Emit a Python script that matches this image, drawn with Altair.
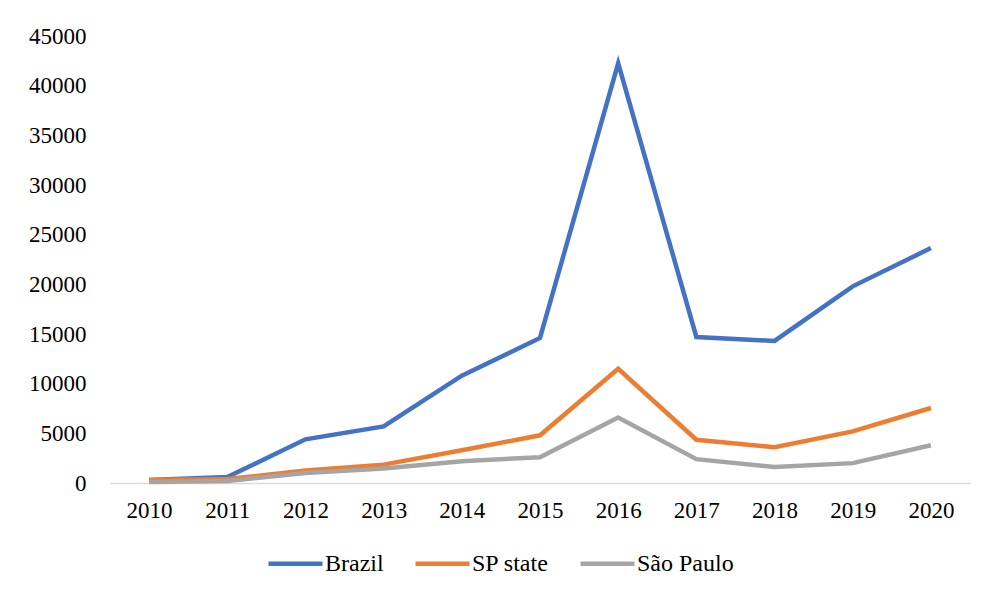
import altair as alt
import pandas as pd

years = ["2010", "2011", "2012", "2013", "2014", "2015", "2016", "2017", "2018", "2019", "2020"]
brazil = [300, 600, 4400, 5700, 10800, 14600, 42250, 14700, 14300, 19800, 23650]
sp_state = [300, 400, 1250, 1850, 3300, 4800, 11500, 4350, 3600, 5200, 7550]
sao_paulo = [100, 200, 1000, 1450, 2200, 2600, 6600, 2400, 1600, 2000, 3800]
series = ["Brazil", "SP state", "São Paulo"]
colors = ["#4472C4", "#ED7D31", "#A5A5A5"]
y_ticks = [0, 5000, 10000, 15000, 20000, 25000, 30000, 35000, 40000, 45000]

rows = []
for name, vals in zip(series, [brazil, sp_state, sao_paulo]):
    for i, (yr, v) in enumerate(zip(years, vals)):
        rows.append({"year": yr, "value": v, "series": name, "s": series.index(name)})
df = pd.DataFrame(rows)

FONT = "Liberation Serif"

chart = alt.Chart(df).mark_line(strokeWidth=4.5, strokeJoin="miter").encode(
    x=alt.X("year:O", sort=years, scale=alt.Scale(type="point", padding=0.5),
            axis=alt.Axis(title=None, labelAngle=0, ticks=False, domainColor="#d9d9d9",
                          domainWidth=1.5, labelPadding=16, labelFont=FONT, labelFontSize=23,
                          labelColor="#000000", grid=False)),
    y=alt.Y("value:Q", scale=alt.Scale(domain=[0, 45000], nice=False),
            axis=alt.Axis(title=None, values=y_ticks, format="d", ticks=False, domain=False,
                          grid=False, labelPadding=24, labelFont=FONT, labelFontSize=23,
                          labelColor="#000000")),
    color=alt.Color("series:N", scale=alt.Scale(domain=series, range=colors),
                    legend=alt.Legend(title=None, orient="none", direction="horizontal",
                                      legendX=156, legendY=498, symbolType="stroke",
                                      symbolSize=2916, symbolStrokeWidth=4.5,
                                      labelFont=FONT, labelFontSize=24, labelColor="#000000",
                                      labelFontWeight="normal",
                                      labelOffset=0, columnPadding=22)),
    order=alt.Order("s:Q"),
    detail="series:N",
).properties(
    width=860,
    height=447,
    background="#ffffff",
    padding={"left": 102, "top": 28, "right": 16, "bottom": 110},
    autosize=alt.AutoSizeParams(type="none"),
).configure(font=FONT).configure_view(strokeWidth=0, stroke="transparent")

chart.save("out.html", embed_options={"renderer": "svg", "actions": False})
